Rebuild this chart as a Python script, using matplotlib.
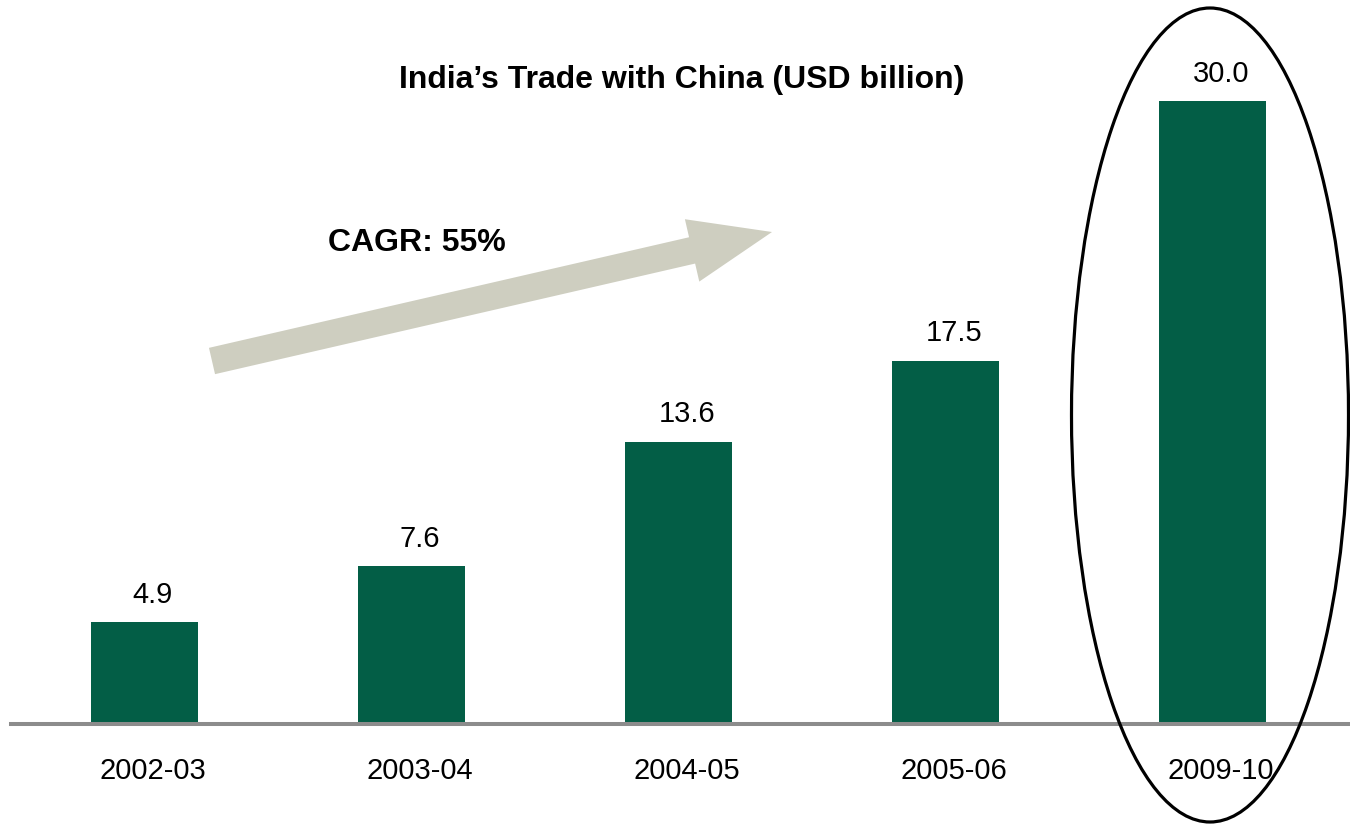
import matplotlib
matplotlib.use("Agg")
import matplotlib.pyplot as plt
import matplotlib.transforms as mtransforms
from matplotlib.patches import Ellipse, FancyArrow

plt.rcParams['font.family'] = ['Liberation Sans', 'DejaVu Sans']

# Data
years = ["2002-03", "2003-04", "2004-05", "2005-06", "2009-10"]
trade = [4.9, 7.6, 13.6, 17.5, 30.0]
title = "India\u2019s Trade with China (USD billion)"
cagr_label = "CAGR: 55%"

BAR_COLOR = "#035e46"
ARROW_COLOR = "#cecec0"

W, H = 1350, 824
fig = plt.figure(figsize=(W / 100, H / 100), dpi=100)

# Main bar axes: baseline at 724 px from top, spans from x=11 px to right edge
ax = fig.add_axes([11 / W, (H - 724) / H, (W - 11) / W, 724 / H])
x = list(range(len(years)))
ax.bar(x, trade, width=0.4, color=BAR_COLOR, zorder=2)
ax.set_xlim(-0.5, 4.515)
ax.set_ylim(0, 34.86)
for xi, v in zip(x, trade):
    ax.annotate(f"{v:.1f}", (xi, v), xytext=(6, 19.5), textcoords="offset points",
                ha="center", va="center", fontsize=21)
ax.set_xticks(x)
ax.set_xticklabels(years, fontsize=21)
ax.tick_params(axis="x", length=0, pad=23.5)
shift = mtransforms.ScaledTranslation(8 / 100, 0, fig.dpi_scale_trans)
for lbl in ax.get_xticklabels():
    lbl.set_transform(lbl.get_transform() + shift)
ax.set_yticks([])
for s in ("top", "right", "left"):
    ax.spines[s].set_visible(False)
ax.spines["bottom"].set_color("#8c8c8c")
ax.spines["bottom"].set_linewidth(2.9)
ax.spines["bottom"].set_zorder(3)

# Overlay in pixel coordinates for annotations
ov = fig.add_axes([0, 0, 1, 1], zorder=5)
ov.set_xlim(0, W)
ov.set_ylim(H, 0)
ov.axis("off")
ov.patch.set_alpha(0)

ov.text(682, 80, title, ha="center", va="center", fontsize=23, fontweight="bold")
ov.text(417, 243, cagr_label, ha="center", va="center", fontsize=23, fontweight="bold")

tail = (212, 361)
tip = (772, 232)
ov.add_patch(FancyArrow(tail[0], tail[1], tip[0] - tail[0], tip[1] - tail[1],
                        width=27, head_width=64, head_length=82,
                        length_includes_head=True, color=ARROW_COLOR, lw=0))

ov.add_patch(Ellipse((1210, 415), 277, 814, fill=False, edgecolor="black", lw=2.3))

fig.savefig("out.png", dpi=100)
